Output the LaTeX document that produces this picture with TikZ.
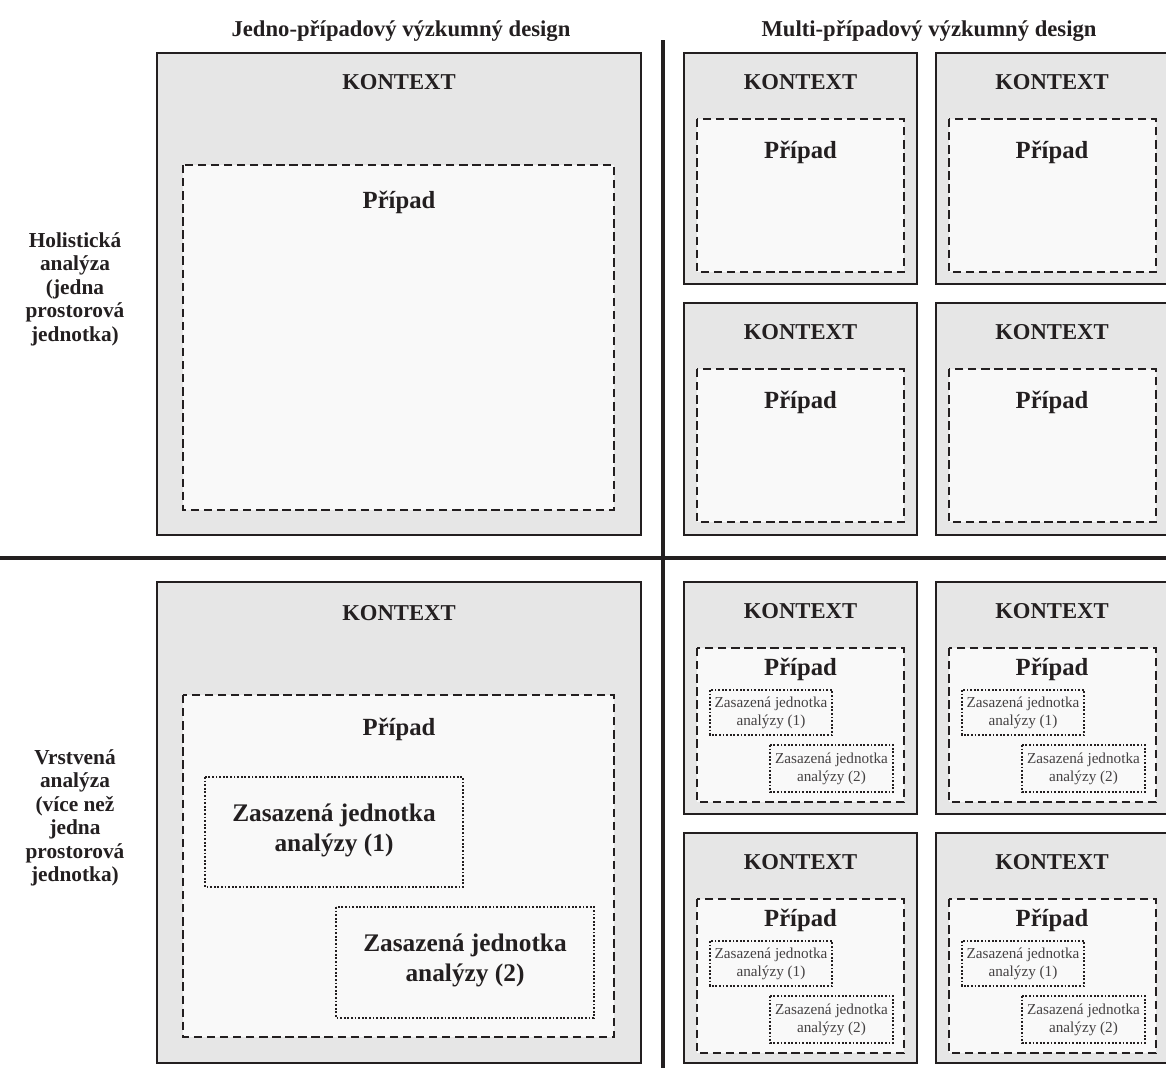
\documentclass[tikz,border=0pt]{standalone}
\usepackage{fontspec}
\setmainfont{Liberation Serif}
\definecolor{ink}{HTML}{231F20}
\definecolor{ctxgray}{HTML}{E6E6E6}
\definecolor{casegray}{HTML}{F9F9F9}
\begin{document}
\begin{tikzpicture}[x=0.75pt,y=-0.75pt,
  divider/.style={draw=ink, line width=3.6pt},
  ctxbox/.style={draw=ink, fill=ctxgray, line width=2pt},
  casebox/.style={draw=ink, fill=casegray, line width=2.1pt, dash pattern=on 6.3pt off 3.5pt},
  unitbox/.style={draw=ink, line width=1.7pt, dash pattern=on 1.4pt off 1.3pt},
  heading/.style={anchor=base, text=ink, font=\fontsize{17}{19}\selectfont\bfseries},
  rowlabel/.style={align=center, text=ink, inner sep=0pt, font=\fontsize{16}{17.6}\selectfont\bfseries},
  ctxlabel/.style={anchor=base, text=ink, font=\fontsize{17}{20}\selectfont\bfseries},
  caselabel/.style={anchor=base, text=ink, font=\fontsize{18.5}{21}\selectfont\bfseries},
  unitlabel/.style={align=center, text=ink, inner sep=0pt, font=\fontsize{19}{22.5}\selectfont\bfseries},
  smallunit/.style={align=center, text=ink!85, inner sep=0pt, font=\fontsize{11.4}{13.5}\selectfont}]
 \useasboundingbox (0,0) rectangle (1166,1068);
 % headings and row labels
 \node[heading] (hdsingle) at (401,36) {Jedno-případový výzkumný design};
 \node[heading] (hdmulti) at (929,36) {Multi-případový výzkumný design};
 \node[rowlabel] (rowholist) at (75,289) {Holistická\\analýza\\(jedna\\prostorová\\jednotka)};
 \node[rowlabel] (rowlayer) at (75,818) {Vrstvená\\analýza\\(více než\\jedna\\prostorová\\jednotka)};
 % single case, holistic
 \draw[ctxbox] (157,53) rectangle (641,535);
 \draw[casebox] (183,165) rectangle (614,510);
 \node[ctxlabel] (ctxA) at (399,89) {KONTEXT};
 \node[caselabel] (caseA) at (399,208) {Případ};
 % multi case, holistic
 \draw[ctxbox] (684,53) rectangle (917,284);
 \draw[casebox] (697,119) rectangle (904,272);
 \node[ctxlabel] (ctxB) at (800.5,89) {KONTEXT};
 \node[caselabel] (caseB) at (800.5,158) {Případ};
 \draw[ctxbox] (936,53) rectangle (1170,284);
 \draw[casebox] (949,119) rectangle (1156,272);
 \node[ctxlabel] (ctxC) at (1052,89) {KONTEXT};
 \node[caselabel] (caseC) at (1052,158) {Případ};
 \draw[ctxbox] (684,303) rectangle (917,535);
 \draw[casebox] (697,369) rectangle (904,522);
 \node[ctxlabel] (ctxD) at (800.5,339) {KONTEXT};
 \node[caselabel] (caseD) at (800.5,408) {Případ};
 \draw[ctxbox] (936,303) rectangle (1170,535);
 \draw[casebox] (949,369) rectangle (1156,522);
 \node[ctxlabel] (ctxE) at (1052,339) {KONTEXT};
 \node[caselabel] (caseE) at (1052,408) {Případ};
 % single case, embedded
 \draw[ctxbox] (157,582) rectangle (641,1063);
 \draw[casebox] (183,695) rectangle (614,1037);
 \node[ctxlabel] (ctxF) at (399,620) {KONTEXT};
 \node[caselabel] (caseF) at (399,735) {Případ};
 \draw[unitbox] (205,777) rectangle (463,887);
 \node[unitlabel] (unitF1) at (334,830) {Zasazená jednotka\\analýzy (1)};
 \draw[unitbox] (336,907) rectangle (594,1018);
 \node[unitlabel] (unitF2) at (465,960) {Zasazená jednotka\\analýzy (2)};
 % multi case, embedded
 \draw[ctxbox] (684,582) rectangle (917,814);
 \draw[casebox] (697,648) rectangle (904,802);
 \node[ctxlabel] (ctxG) at (800.5,618) {KONTEXT};
 \node[caselabel] (caseG) at (800.5,675) {Případ};
 \draw[unitbox] (710,690) rectangle (832,735);
 \node[smallunit] (unitG1) at (771,712.5) {Zasazená jednotka\\analýzy (1)};
 \draw[unitbox] (770,745) rectangle (893,792);
 \node[smallunit] (unitG2) at (831.5,768.5) {Zasazená jednotka\\analýzy (2)};
 \draw[ctxbox] (936,582) rectangle (1170,814);
 \draw[casebox] (949,648) rectangle (1156,802);
 \node[ctxlabel] (ctxH) at (1052,618) {KONTEXT};
 \node[caselabel] (caseH) at (1052,675) {Případ};
 \draw[unitbox] (962,690) rectangle (1084,735);
 \node[smallunit] (unitH1) at (1023,712.5) {Zasazená jednotka\\analýzy (1)};
 \draw[unitbox] (1022,745) rectangle (1145,792);
 \node[smallunit] (unitH2) at (1083.5,768.5) {Zasazená jednotka\\analýzy (2)};
 \draw[ctxbox] (684,833) rectangle (917,1063);
 \draw[casebox] (697,899) rectangle (904,1053);
 \node[ctxlabel] (ctxI) at (800.5,869) {KONTEXT};
 \node[caselabel] (caseI) at (800.5,926) {Případ};
 \draw[unitbox] (710,941) rectangle (832,986);
 \node[smallunit] (unitI1) at (771,963.5) {Zasazená jednotka\\analýzy (1)};
 \draw[unitbox] (770,996) rectangle (893,1043);
 \node[smallunit] (unitI2) at (831.5,1019.5) {Zasazená jednotka\\analýzy (2)};
 \draw[ctxbox] (936,833) rectangle (1170,1063);
 \draw[casebox] (949,899) rectangle (1156,1053);
 \node[ctxlabel] (ctxJ) at (1052,869) {KONTEXT};
 \node[caselabel] (caseJ) at (1052,926) {Případ};
 \draw[unitbox] (962,941) rectangle (1084,986);
 \node[smallunit] (unitJ1) at (1023,963.5) {Zasazená jednotka\\analýzy (1)};
 \draw[unitbox] (1022,996) rectangle (1145,1043);
 \node[smallunit] (unitJ2) at (1083.5,1019.5) {Zasazená jednotka\\analýzy (2)};
 % dividing lines
 \draw[divider] (663,40) -- (663,1068);
 \draw[divider] (0,558) -- (1166,558);
\end{tikzpicture}
\end{document}
